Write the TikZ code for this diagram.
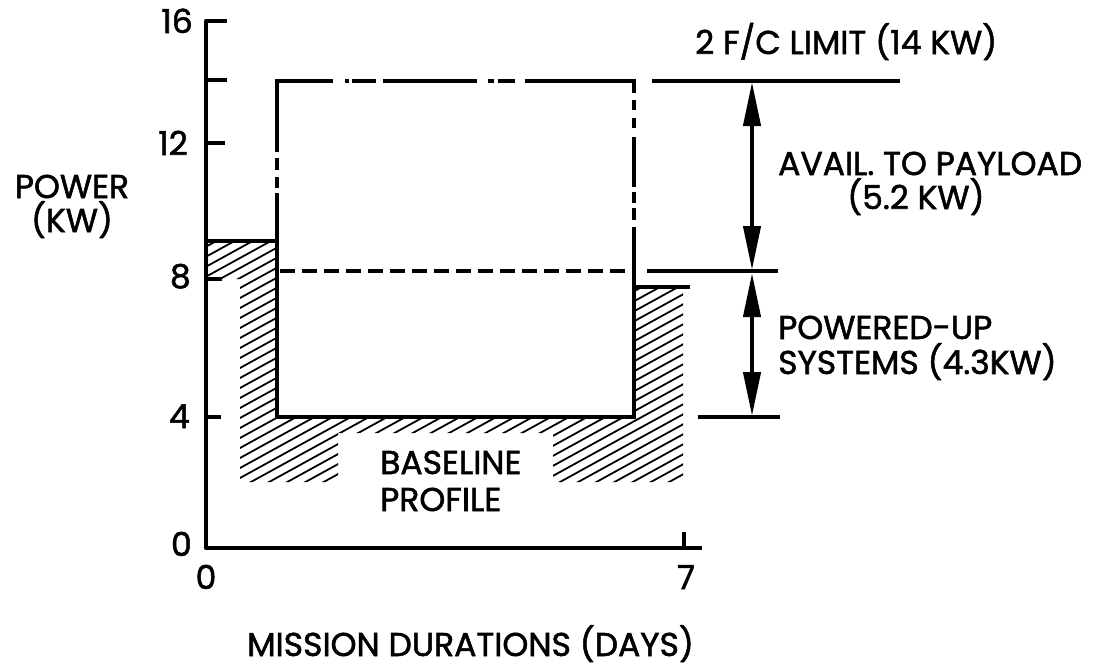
\documentclass[tikz,border=0pt]{standalone}
\usepackage{fontspec}
\setmainfont{Poppins}[FakeBold=1.6]
\usetikzlibrary{arrows.meta}
\tikzset{
  axisline/.style={line width=4.5pt, line join=round},
  profile/.style={line width=4.5pt, line join=miter},
  limitline/.style={line width=4.2pt},
  dashline/.style={line width=4.2pt, dash pattern=on 15pt off 7pt},
  hatchline/.style={line width=1.8pt},
  dimarrow/.style={line width=4.2pt, {Triangle[length=44pt,width=17pt]}-{Triangle[length=44pt,width=17pt]}},
  lbl/.style={inner sep=0pt, font=\fontsize{33}{38}\selectfont},
}
\begin{document}
\begin{tikzpicture}[x=1pt,y=-1pt]
\useasboundingbox[fill=white] (0,0) rectangle (1101,667);

% hatched baseline profile
\begin{scope}
  \clip (208,241) -- (277,241) -- (277,417) -- (634,417) -- (634,287) -- (683,287)
        -- (683,482) -- (553,482) -- (553,433) -- (338,433) -- (338,482) -- (240,482)
        -- (240,279) -- (208,279) -- cycle;
  \foreach \c in {340,350,...,890} {
    \draw[hatchline] (190,{\c-104.5}) -- (710,{\c-390.5});
  }
\end{scope}

% axes and ticks
\draw[axisline] (227,21) -- (206,21) -- (206,548) -- (702,548);
\draw[axisline] (206,80) -- (227,80);
\draw[axisline] (206,143) -- (225,143);
\draw[axisline] (206,279) -- (222,279);
\draw[axisline] (206,417) -- (221,417);
\draw[axisline] (684,548) -- (684,532);

% baseline profile outline
\draw[profile] (206,241) -- (277,241) -- (277,193);
\draw[profile] (277,241) -- (277,417) -- (634,417) -- (634,227);
\draw[profile] (634,287) -- (690,287);

% 2 F/C limit (dash-dot envelope)
\draw[limitline] (277,152) -- (277,81) -- (333,81);
\draw[limitline] (277,158) -- (277,170);
\draw[limitline] (277,177) -- (277,188);
\draw[limitline] (345,81) -- (349,81);
\draw[limitline] (352,81) -- (376,81);
\draw[limitline] (383,81) -- (477,81);
\draw[limitline] (488,81) -- (494,81);
\draw[limitline] (498,81) -- (515,81);
\draw[limitline] (525,81) -- (634,81) -- (634,93);
\draw[limitline] (634,100) -- (634,110);
\draw[limitline] (634,118) -- (634,128);
\draw[limitline] (634,137) -- (634,187);
\draw[limitline] (634,192) -- (634,203);
\draw[limitline] (634,208) -- (634,220);

% reference levels on the right
\coordinate (l14a) at (652,81);
\coordinate (l14b) at (900,81);
\coordinate (l83a) at (647,271);
\coordinate (l83b) at (778,271);
\coordinate (l4a) at (698,417);
\coordinate (l4b) at (780,417);
\draw[limitline] (l14a) -- (l14b);
\draw[dashline] (280,271) -- (628,271);
\draw[limitline] (l83a) -- (l83b);
\draw[limitline] (l4a) -- (l4b);

% dimension arrows
\coordinate (a14) at (752,82);
\coordinate (a83u) at (752,270);
\coordinate (a83d) at (752,273);
\coordinate (a4) at (752,416);
\draw[dimarrow] (a14) -- (a83u);
\draw[dimarrow] (a83d) -- (a4);

% labels
\node[lbl, anchor=base east] (y16) at (193,33) {16};
\node[lbl, anchor=base east] (y12) at (188,155) {12};
\node[lbl, anchor=base east] (y8) at (191,288) {8};
\node[lbl, anchor=base east] (y4) at (190,428) {4};
\node[lbl, anchor=base east] (y0) at (192,556) {0};
\node[lbl, anchor=base] (x0) at (206,589) {0};
\node[lbl, anchor=base] (x7) at (686,589) {7};
\node[lbl, anchor=base] (power) at (72,198) {POWER};
\node[lbl, anchor=base] (kw) at (72,232) {(KW)};
\node[lbl, anchor=base west] (limit) at (695,54) {2 F/C LIMIT (14 KW)};
\node[lbl, anchor=base west] (avail) at (778,175) {AVAIL. TO PAYLOAD};
\node[lbl, anchor=base west] (avail2) at (847,209) {(5.2 KW)};
\node[lbl, anchor=base west] (pwr) at (778,339) {POWERED-UP};
\node[lbl, anchor=base west] (sys) at (778,374) {SYSTEMS (4.3KW)};
\node[lbl, anchor=base west] (base1) at (380,474) {BASELINE};
\node[lbl, anchor=base west] (base2) at (380,511) {PROFILE};
\node[lbl, anchor=base west] (mission) at (247,656) {MISSION DURATIONS (DAYS)};
\end{tikzpicture}
\end{document}
